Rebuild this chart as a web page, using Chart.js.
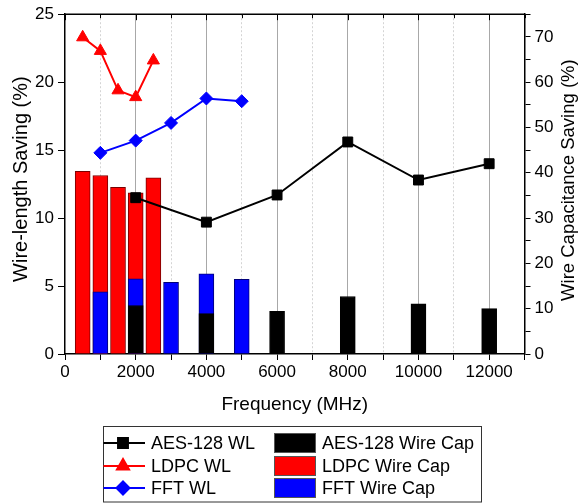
<!DOCTYPE html>
<html>
<head>
<meta charset="utf-8">
<script src="https://cdn.jsdelivr.net/npm/chart.js@4"></script>
<style>
  html, body { margin: 0; padding: 0; background: #fff; }
  #wrap { width: 579px; height: 504px; }
</style>
</head>
<body>
<div id="wrap"><canvas id="chart"></canvas></div>
<script>
// frequencies (MHz)
const freqAes = [2000, 4000, 6000, 8000, 10000, 12000];
const freqLdpc = [500, 1000, 1500, 2000, 2500];
const freqFft = [1000, 2000, 3000, 4000, 5000];

// wire-length saving (%), left axis
const aesWl = [11.5, 9.7, 11.7, 15.6, 12.8, 14.0];
const ldpcWl = [23.3, 22.3, 19.4, 18.9, 21.6];
const fftWl = [14.8, 15.7, 17.0, 18.8, 18.6];

// wire capacitance saving (%), right axis
const aesCap = [10.7, 8.9, 9.4, 12.7, 11.1, 10.0];
const ldpcCap = [40.3, 39.4, 36.8, 35.6, 38.9];
const fftCap = [13.7, 16.6, 15.8, 17.7, 16.5];

const FONT = "'Liberation Sans', Arial, sans-serif";
const LEFT_TITLE = 'Wire-length Saving (%)';
const RIGHT_TITLE = 'Wire Capacitance Saving (%)';

function pts(xs, ys) {
    return xs.map((x, i) => ({ x: x, y: ys[i] }));
}

function lineSet(label, xs, ys, color, style, radius) {
    return {
        type: 'line',
        label: label,
        data: pts(xs, ys),
        yAxisID: 'y',
        borderColor: color,
        backgroundColor: color,
        borderWidth: 2,
        tension: 0,
        pointStyle: style,
        pointRadius: radius,
        pointBorderWidth: 1,
        order: 0
    };
}

function barSet(label, xs, ys, color, edge, order) {
    return {
        type: 'bar',
        label: label,
        data: pts(xs, ys),
        yAxisID: 'y1',
        backgroundColor: color,
        borderColor: edge,
        borderWidth: 1,
        barThickness: 15,
        grouped: false,
        order: order
    };
}

function verticalText(ctx, text, x, y, size) {
    ctx.save();
    ctx.translate(x, y);
    ctx.rotate(-Math.PI / 2);
    ctx.font = size + 'px ' + FONT;
    ctx.textAlign = 'center';
    ctx.textBaseline = 'middle';
    ctx.fillStyle = '#000';
    ctx.fillText(text, 0, 0);
    ctx.restore();
}

// top frame line, inner top ticks, both y titles (reading upward) and the two-column legend
const frameAndLegend = {
    id: 'frameAndLegend',
    afterDraw(chart) {
        const ctx = chart.ctx;
        const area = chart.chartArea;
        const xs = chart.scales.x;
        ctx.save();
        ctx.strokeStyle = '#000';
        ctx.lineWidth = 1.5;
        ctx.beginPath();
        ctx.moveTo(area.left, area.top);
        ctx.lineTo(area.right, area.top);
        ctx.stroke();
        ctx.lineWidth = 1;
        xs.ticks.forEach(t => {
            const px = Math.round(xs.getPixelForValue(t.value)) + 0.5;
            ctx.beginPath();
            ctx.moveTo(px, area.top);
            ctx.lineTo(px, area.top + (t.value % 2000 === 0 ? 6 : 4));
            ctx.stroke();
        });

        const midY = (area.top + area.bottom) / 2;
        verticalText(ctx, LEFT_TITLE, 21, midY - 5, 20);
        verticalText(ctx, RIGHT_TITLE, 569, midY - 4, 18.5);

        // legend box
        const left = 103.5, right = 481.5, top = 426.5, bottom = 502;
        ctx.strokeStyle = '#333';
        ctx.lineWidth = 1;
        ctx.strokeRect(left, top, right - left, bottom - top);

        const ds = chart.data.datasets;
        const rows = [443, 466, 488];
        ctx.font = '18px ' + FONT;
        ctx.textAlign = 'left';
        ctx.textBaseline = 'middle';
        ctx.fillStyle = '#000';
        for (let r = 0; r < 3; r++) {
            const line = ds[r];
            const bar = ds[r + 3];
            const y = rows[r];
            // line sample
            ctx.strokeStyle = line.borderColor;
            ctx.lineWidth = 2;
            ctx.beginPath();
            ctx.moveTo(left, y);
            ctx.lineTo(145, y);
            ctx.stroke();
            Chart.helpers.drawPoint(ctx, {
                pointStyle: line.pointStyle,
                radius: line.pointRadius,
                rotation: 0,
                borderWidth: 1
            }, 123, y);
            ctx.fillStyle = line.borderColor;
            ctx.fill();
            ctx.fillStyle = '#000';
            ctx.fillText(line.label, 151, y + 1);
            // bar swatch
            ctx.fillStyle = bar.backgroundColor;
            ctx.fillRect(274, y - 10, 42, 20);
            ctx.strokeStyle = '#555';
            ctx.lineWidth = 1;
            ctx.strokeRect(274.5, y - 9.5, 41, 19);
            ctx.fillStyle = '#000';
            ctx.fillText(bar.label, 322, y + 1);
        }
        ctx.restore();
    }
};

const isMajorX = v => v % 2000 === 0;

new Chart(document.getElementById('chart'), {
    type: 'bar',
    data: {
        datasets: [
            lineSet('AES-128 WL', freqAes, aesWl, '#000000', 'rect', 7),
            lineSet('LDPC WL', freqLdpc, ldpcWl, '#ff0000', 'triangle', 7),
            lineSet('FFT WL', freqFft, fftWl, '#0000ff', 'rectRot', 6.5),
            barSet('AES-128 Wire Cap', freqAes, aesCap, '#000000', '#000000', 1),
            barSet('LDPC Wire Cap', freqLdpc, ldpcCap, '#ff0000', '#7a0000', 3),
            barSet('FFT Wire Cap', freqFft, fftCap, '#0000ff', '#00007a', 2)
        ]
    },
    options: {
        responsive: true,
        maintainAspectRatio: false,
        animation: false,
        layout: { padding: { top: 12.5, bottom: 84, left: 0, right: 0 } },
        plugins: {
            legend: { display: false },
            tooltip: { enabled: false }
        },
        scales: {
            x: {
                type: 'linear',
                position: 'bottom',
                min: 0,
                max: 13000,
                offset: false,
                afterFit: s => { s.height = 66; },
                ticks: {
                    stepSize: 1000,
                    autoSkip: false,
                    maxRotation: 0,
                    padding: 2,
                    color: '#000',
                    font: { family: FONT, size: 17 },
                    callback: v => (isMajorX(v) && v < 13000) ? String(v) : ''
                },
                grid: {
                    offset: false,
                    drawTicks: true,
                    tickLength: 6,
                    tickColor: '#000',
                    lineWidth: 1,
                    color: ctx => {
                        const v = ctx.tick ? ctx.tick.value : 0;
                        if (v === 0 || v === 13000) return 'rgba(0,0,0,0)';
                        return isMajorX(v) ? '#a8a8a8' : '#d4d4d4';
                    }
                },
                border: {
                    color: '#000',
                    width: 1.5,
                    dash: ctx => (ctx.tick && !isMajorX(ctx.tick.value)) ? [2, 2] : []
                },
                title: {
                    display: true,
                    text: 'Frequency (MHz)',
                    color: '#000',
                    font: { family: FONT, size: 19 },
                    padding: { top: 0, bottom: 4 }
                }
            },
            y: {
                position: 'left',
                min: 0,
                max: 25,
                afterFit: s => { s.width = 65; },
                ticks: {
                    stepSize: 5,
                    padding: 4,
                    color: '#000',
                    font: { family: FONT, size: 17 }
                },
                grid: {
                    drawOnChartArea: false,
                    drawTicks: true,
                    tickLength: 7,
                    tickColor: '#000'
                },
                border: { color: '#000', width: 1.5 }
            },
            y1: {
                position: 'right',
                min: 0,
                max: 75,
                afterFit: s => { s.width = 54.5; },
                ticks: {
                    stepSize: 5,
                    autoSkip: false,
                    padding: 4,
                    color: '#000',
                    font: { family: FONT, size: 17 },
                    callback: v => (v % 10 === 0) ? String(v) : ''
                },
                grid: {
                    drawOnChartArea: false,
                    drawTicks: true,
                    tickLength: 6,
                    tickColor: '#000'
                },
                border: { color: '#000', width: 1.5 }
            }
        }
    },
    plugins: [frameAndLegend]
});
</script>
</body>
</html>
